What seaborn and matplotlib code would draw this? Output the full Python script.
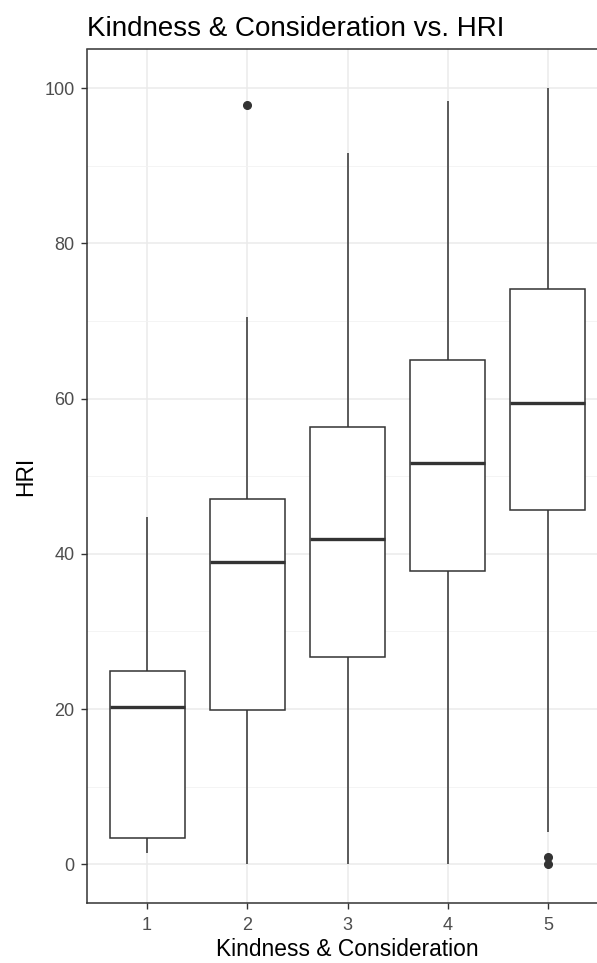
import numpy as np
import pandas as pd
import matplotlib
matplotlib.use('Agg')
import matplotlib.pyplot as plt
import seaborn as sns

# DATA
# each list holds whisker ends, quartiles, median and outliers of one group
categories = ['1', '2', '3', '4', '5']
hri_1 = [1.5, 3.4, 20.2, 24.9, 44.7]
hri_2 = [0.0, 19.9, 19.9, 38.9, 38.9, 47.1, 47.1, 70.5, 97.8]
hri_3 = [0.0, 26.7, 41.9, 56.3, 91.6]
hri_4 = [0.0, 37.8, 51.7, 65.0, 98.4]
hri_5 = [0.0, 0.9, 4.2, 45.7, 45.7, 45.7, 59.5, 74.1, 74.1, 74.1, 100.0, 100.0, 100.0]

groups = [hri_1, hri_2, hri_3, hri_4, hri_5]
df = pd.DataFrame({'kind': [c for c, g in zip(categories, groups) for _ in g],
                   'hri': [v for g in groups for v in g]})

# STYLE
sns.set_theme(style='white')
plt.rcParams['font.family'] = ['Liberation Sans', 'DejaVu Sans']

dark = '#333333'

fig = plt.figure(figsize=(5.97, 9.63), dpi=100)
ax = fig.add_axes([87 / 597, 60 / 963, 521 / 597, 853.5 / 963])

sns.boxplot(data=df, x='kind', y='hri', order=categories, ax=ax,
            width=0.75, color='white', linecolor=dark, linewidth=1.1,
            showcaps=False,
            medianprops={'linewidth': 2.4, 'color': dark},
            flierprops={'marker': 'o', 'markerfacecolor': dark,
                        'markeredgecolor': dark, 'markersize': 5.5})

ax.set_xlim(-0.6, 4.6)
ax.set_ylim(-5, 105)
ax.set_yticks(np.arange(0, 101, 20))
ax.set_yticks(np.arange(10, 100, 20), minor=True)

ax.set_axisbelow(True)
ax.grid(True, which='major', color='#EBEBEB', linewidth=1.1)
ax.grid(True, which='minor', axis='y', color='#F2F2F2', linewidth=0.6)

for sp in ax.spines.values():
    sp.set_color(dark)
    sp.set_linewidth(1.1)

ax.tick_params(axis='both', which='major', length=4, width=1.0, color=dark,
               labelsize=13, labelcolor='#4D4D4D', left=True, bottom=True)
ax.tick_params(axis='x', pad=6)
ax.tick_params(axis='y', pad=5)
ax.tick_params(axis='y', which='minor', length=0)

ax.set_xlabel('Kindness & Consideration', fontsize=16.4, color='black', labelpad=3)
ax.set_ylabel('HRI', fontsize=16.4, color='black', labelpad=5)
ax.set_title('Kindness & Consideration vs. HRI', fontsize=20, loc='left',
             color='black', pad=10)

fig.savefig('out.png', dpi=100)
